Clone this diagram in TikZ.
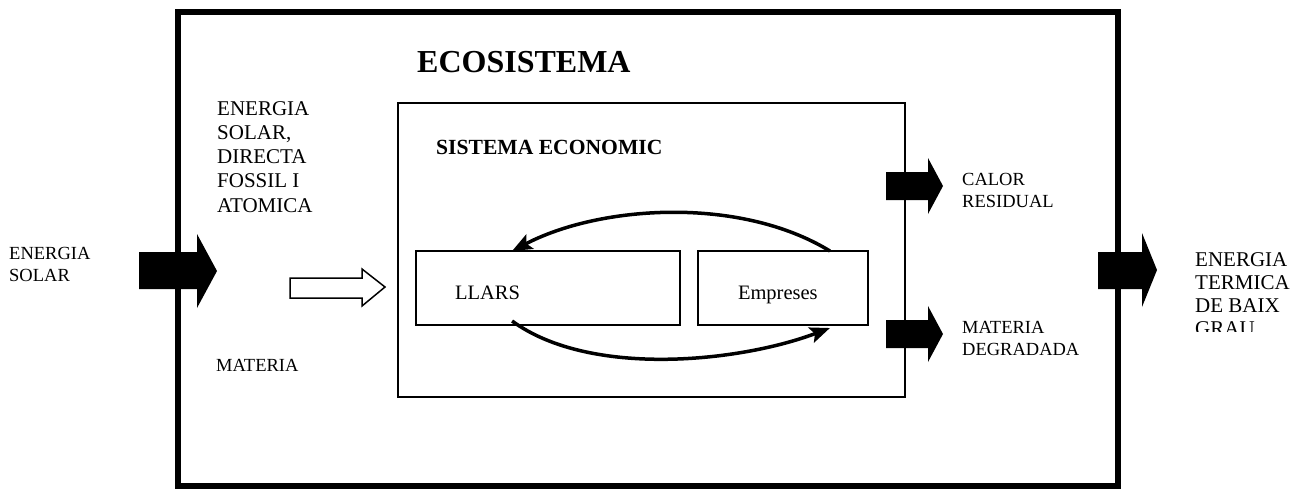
\documentclass[tikz,border=0pt]{standalone}
\usepackage{fontspec}
\setmainfont{Liberation Serif}
\usetikzlibrary{arrows.meta,calc}
\tikzset{
  txt/.style={inner sep=0pt, anchor=base west, align=left},
  small/.style={font=\fontsize{18.5}{21.5}\selectfont},
  mid/.style={font=\fontsize{21}{24.2}\selectfont},
  outerbox/.style={draw, line width=5.5pt, outer sep=0pt},
  innerbox/.style={draw, line width=2.8pt, outer sep=0pt},
  unitbox/.style={draw, line width=1.5pt, outer sep=0pt, anchor=north west, minimum height=74pt,
    text height=23.6pt, text depth=0pt, align=left, font=\fontsize{20.5}{24}\selectfont},
  flow/.style={line width=3.5pt, -{Stealth[length=20pt,width=16pt,inset=4pt]}},
  blockarrow/.style={fill=black},
  hollowarrow/.style={draw, line width=1.5pt, fill=white, line join=miter}
}
\begin{document}
\begin{tikzpicture}[x=1pt,y=-1pt]
\useasboundingbox (0,0) rectangle (1298,491);
% outer ecosystem box
\node[outerbox, anchor=north west, minimum width=940pt, minimum height=474pt, inner sep=0pt] (ecobox) at (178,12) {};
\node[txt, font=\fontsize{32}{36}\selectfont\bfseries] (ecotitle) at (417,72) {ECOSISTEMA};
% economic system box
\node[innerbox, anchor=north west, minimum width=507pt, minimum height=294pt, inner sep=0pt] (econ) at (398,103) {};
\node[txt, font=\fontsize{21.6}{25}\selectfont\bfseries] (econtitle) at (436,154) {SISTEMA ECONOMIC};
% households / firms
\node[unitbox, minimum width=264pt, text width=186pt, inner xsep=39pt] (llars) at (416,251) {LLARS};
\node[unitbox, minimum width=170pt, text width=90pt, inner xsep=40pt] (emp) at (698,251) {Empreses};
% circular flows
\coordinate (empTop) at ($(emp.north east)!0.224!(emp.north west)$);
\coordinate (llarsTop) at ($(llars.north west)!0.364!(llars.north east)$);
\coordinate (llarsBot) at ($(llars.south west)!0.364!(llars.south east)$);
\coordinate (empBot) at ($(emp.south east)!0.224!(emp.south west)$);
\draw[flow] (empTop) .. controls (740,196) and (600,205) .. (llarsTop);
\draw[flow] ([yshift=4pt]llarsBot) .. controls (590,378) and (740,362) .. ([yshift=-3pt]empBot);
% block arrows
\fill[blockarrow] (139,252) -- (197,252) -- (197,234) -- (217,271) -- (197,308) -- (197,289) -- (139,289) -- cycle;
\fill[blockarrow] (886,172) -- (928,172) -- (928,158) -- (943,186) -- (928,214) -- (928,200) -- (886,200) -- cycle;
\fill[blockarrow] (886,320) -- (928,320) -- (928,306) -- (943,334) -- (928,362) -- (928,348) -- (886,348) -- cycle;
\fill[blockarrow] (1098,252) -- (1142,252) -- (1142,233) -- (1157,270) -- (1142,307) -- (1142,289) -- (1098,289) -- cycle;
\draw[hollowarrow] (290,278) -- (362,278) -- (362,269) -- (385,287) -- (362,306) -- (362,298) -- (290,298) -- cycle;
% texts (anchor = baseline of last line)
\node[txt, small] (insolar) at (9,281) {ENERGIA\\SOLAR};
\node[txt, mid] (inenergy) at (217,212) {ENERGIA\\SOLAR,\\DIRECTA\\FOSSIL I\\ATOMICA};
\node[txt, small] (inmatter) at (216,371) {MATERIA};
\node[txt, font=\fontsize{18.5}{22}\selectfont] (outheat) at (962,207) {CALOR\\RESIDUAL};
\node[txt, font=\fontsize{18.5}{22}\selectfont] (outmatter) at (962,355) {MATERIA\\DEGRADADA};
\begin{scope}
\clip (1180,230) rectangle (1298,331);
\node[txt, font=\fontsize{21}{23}\selectfont] (outthermal) at (1195,335) {ENERGIA\\TERMICA\\DE BAIX\\GRAU};
\end{scope}
\end{tikzpicture}
\end{document}
